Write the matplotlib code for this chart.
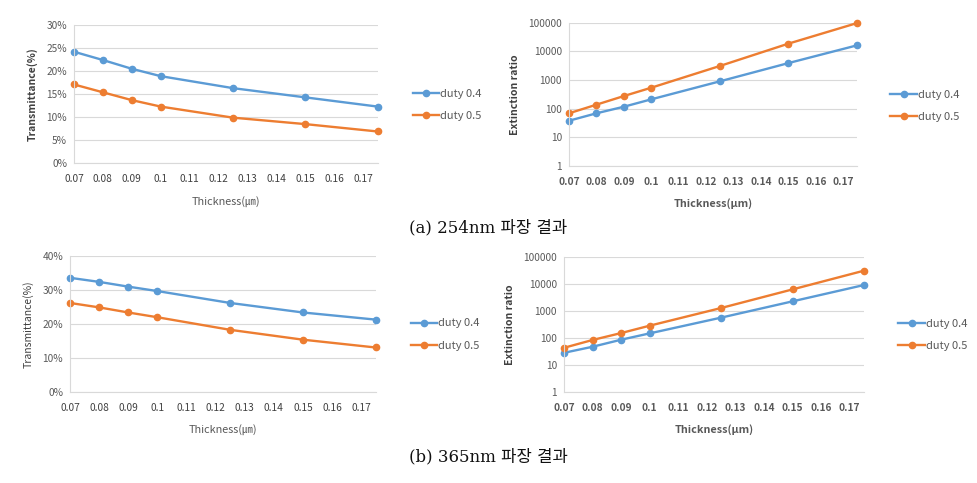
import numpy as np
import matplotlib.pyplot as plt
from matplotlib.ticker import FixedLocator, NullLocator

# thickness values (um)
thickness = [0.07, 0.08, 0.09, 0.1, 0.125, 0.15, 0.175]

# (a) 254nm
trans_254_d04 = [24.2, 22.4, 20.5, 18.9, 16.3, 14.3, 12.3]
trans_254_d05 = [17.1, 15.4, 13.7, 12.3, 9.9, 8.5, 6.9]
ext_254_d04 = [38, 69, 117, 212, 900, 3900, 16200]
ext_254_d05 = [69, 138, 276, 540, 3090, 18600, 97000]

# (b) 365nm
trans_365_d04 = [33.5, 32.3, 30.9, 29.6, 26.1, 23.3, 21.2]
trans_365_d05 = [26.1, 24.8, 23.3, 21.9, 18.2, 15.3, 13.0]
ext_365_d04 = [28, 47, 86, 148, 570, 2300, 9300]
ext_365_d05 = [43, 84, 152, 286, 1300, 6400, 31800]

xticks = [0.07, 0.08, 0.09, 0.1, 0.11, 0.12, 0.13, 0.14, 0.15, 0.16, 0.17]
xtick_labels = ['0.07', '0.08', '0.09', '0.1', '0.11', '0.12', '0.13', '0.14', '0.15', '0.16', '0.17']
log_ticks = [1, 10, 100, 1000, 10000, 100000]
series_names = ['duty 0.4', 'duty 0.5']

BLUE = '#5B9BD5'
ORANGE = '#ED7D31'
GRID = '#D9D9D9'
TXT = '#595959'
FONT = ['Noto Sans CJK KR', 'DejaVu Sans']

W, H = 977, 483
fig = plt.figure(figsize=(W / 100, H / 100), dpi=100)


def make_ax(left, right, top, bottom):
    return fig.add_axes([left / W, 1 - bottom / H, (right - left) / W, (bottom - top) / H])


def style_ax(ax):
    for s in ['top', 'right']:
        ax.spines[s].set_visible(False)
    for s in ['left', 'bottom']:
        ax.spines[s].set_color(GRID)
        ax.spines[s].set_linewidth(0.8)
    ax.grid(axis='y', color=GRID, linewidth=0.8)
    ax.set_axisbelow(True)
    ax.tick_params(length=0, colors=TXT, labelsize=7.3)
    ax.tick_params(axis='x', pad=8)
    ax.tick_params(axis='y', pad=5)
    ax.set_xlim(0.07, 0.175)
    ax.xaxis.set_major_locator(FixedLocator(xticks))
    ax.set_xticklabels(xtick_labels)
    for lab in ax.get_xticklabels() + ax.get_yticklabels():
        lab.set_family(FONT)


def draw(ax, y1, y2, ms=4.5):
    ax.plot(thickness, y1, color=BLUE, marker='o', ms=ms, lw=1.7, label=series_names[0], clip_on=False)
    ax.plot(thickness, y2, color=ORANGE, marker='o', ms=ms, lw=1.7, label=series_names[1], clip_on=False)


def trans_panel(ax, y1, y2, ymax, step, label_weight):
    draw(ax, y1, y2)
    ax.set_ylim(0, ymax)
    yt = list(range(0, ymax + 1, step))
    ax.yaxis.set_major_locator(FixedLocator(yt))
    ax.set_yticklabels([f'{v}%' for v in yt])
    style_ax(ax)
    for lab in ax.get_xticklabels():
        lab.set_color('#404040')
    ax.set_xlabel('Thickness(㎛)', fontsize=7.8, color=TXT, family=FONT, labelpad=8)
    ax.set_ylabel('Transmittance(%)', fontsize=7.5, color='#404040', family=FONT,
                  fontweight=label_weight, labelpad=6)


def ext_panel(ax, y1, y2):
    draw(ax, y1, y2)
    ax.set_yscale('log')
    ax.set_ylim(1, 100000)
    ax.yaxis.set_major_locator(FixedLocator(log_ticks))
    ax.yaxis.set_minor_locator(NullLocator())
    ax.set_yticklabels([str(v) for v in log_ticks])
    style_ax(ax)
    for lab in ax.get_xticklabels():
        lab.set_fontweight('bold')
    ax.set_xlabel('Thickness(μm)', fontsize=7.8, color=TXT, family=FONT,
                  fontweight='bold', labelpad=8)
    ax.set_ylabel('Extinction ratio', fontsize=7.5, color='#404040', family=FONT,
                  fontweight='bold', labelpad=6)


def legend(ax, x, y):
    leg = ax.legend(loc='center left', bbox_to_anchor=(x, y), frameon=False,
                    fontsize=8, handlelength=2.4, handletextpad=0.1, labelspacing=1.1,
                    borderaxespad=0)
    for t in leg.get_texts():
        t.set_color(TXT)
        t.set_family(FONT)


ax1 = make_ax(74, 377.7, 25, 163.3)
trans_panel(ax1, trans_254_d04, trans_254_d05, 30, 5, 'bold')
legend(ax1, 1.1, 0.42)

ax2 = make_ax(569, 857, 22.7, 166)
ext_panel(ax2, ext_254_d04, ext_254_d05)
legend(ax2, 1.1, 0.42)

ax3 = make_ax(70, 375.7, 255.7, 391.7)
trans_panel(ax3, trans_365_d04, trans_365_d05, 40, 10, 'normal')
legend(ax3, 1.1, 0.42)

ax4 = make_ax(564, 864, 257.3, 391.7)
ext_panel(ax4, ext_365_d04, ext_365_d05)
legend(ax4, 1.1, 0.42)

cap_font = ['DejaVu Serif', 'Noto Sans CJK KR']
fig.text(0.5, 1 - 228 / H, '(a) 254nm 파장 결과', ha='center', va='center',
         fontsize=12, family=cap_font, color='#111111')
fig.text(0.5, 1 - 457 / H, '(b) 365nm 파장 결과', ha='center', va='center',
         fontsize=12, family=cap_font, color='#111111')

fig.savefig('out.png', dpi=100)
